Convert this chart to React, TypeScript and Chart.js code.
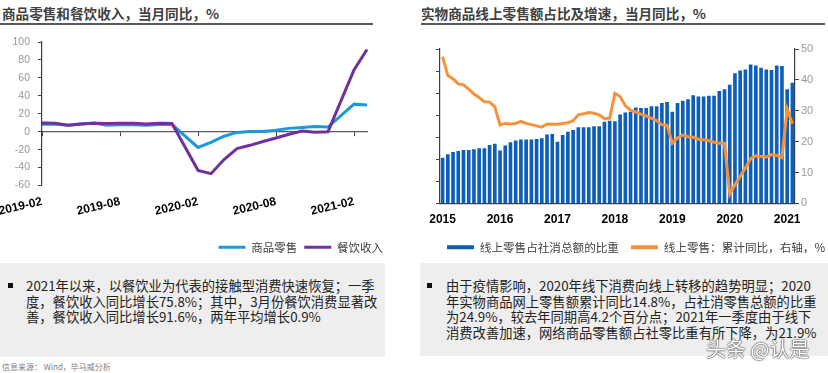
import React, { useEffect, useRef } from 'react';
import { Chart, registerables } from 'chart.js';

Chart.register(...registerables);

// ---------- Left chart data ----------
const leftLabels = [
  '2019-02', '2019-03', '2019-04', '2019-05', '2019-06', '2019-07', '2019-08', '2019-09', '2019-10', '2019-11', '2019-12',
  '2020-01', '2020-02', '2020-03', '2020-04', '2020-05', '2020-06', '2020-07', '2020-08', '2020-09', '2020-10', '2020-11', '2020-12',
  '2021-01', '2021-02', '2021-03',
];
const leftTickLabels = ['2019-02', '2019-08', '2020-02', '2020-08', '2021-02'];
const goodsRetail = [
  8.2, 8.7, 7.2, 8.7, 9.8, 7.3, 7.6, 7.6, 7.2, 8.0, 7.9,
  null, -17.6, -12.0, -5.1, -0.8, 0.2, 0.2, 1.5, 3.7, 4.6, 5.8, 5.2,
  null, 30.7, 29.8,
];
const cateringRevenue = [
  9.7, 9.3, 7.2, 8.7, 9.5, 9.0, 9.5, 9.3, 8.6, 9.3, 9.1,
  null, -43.1, -46.8, -31.1, -18.9, -15.2, -11.0, -7.0, -2.9, 0.8, -0.6, 0.0,
  null, 68.9, 91.6,
];
const leftSeriesNames = ['商品零售', '餐饮收入'];

// ---------- Right chart data ----------
const rightLabels = [
  '2015-02', '2015-03', '2015-04', '2015-05', '2015-06', '2015-07', '2015-08', '2015-09', '2015-10', '2015-11', '2015-12',
  '2016-02', '2016-03', '2016-04', '2016-05', '2016-06', '2016-07', '2016-08', '2016-09', '2016-10', '2016-11', '2016-12',
  '2017-02', '2017-03', '2017-04', '2017-05', '2017-06', '2017-07', '2017-08', '2017-09', '2017-10', '2017-11', '2017-12',
  '2018-02', '2018-03', '2018-04', '2018-05', '2018-06', '2018-07', '2018-08', '2018-09', '2018-10', '2018-11', '2018-12',
  '2019-02', '2019-03', '2019-04', '2019-05', '2019-06', '2019-07', '2019-08', '2019-09', '2019-10', '2019-11', '2019-12',
  '2020-02', '2020-03', '2020-04', '2020-05', '2020-06', '2020-07', '2020-08', '2020-09', '2020-10', '2020-11', '2020-12',
  '2021-02', '2021-03',
];
const onlineShare = [
  8.3, 8.9, 9.3, 9.5, 9.7, 9.7, 9.8, 10.0, 10.0, 10.6, 10.8,
  9.6, 10.5, 11.1, 11.4, 11.6, 11.6, 11.6, 11.7, 11.8, 12.5, 12.6,
  11.2, 12.4, 13.0, 13.3, 13.8, 13.8, 13.8, 14.0, 14.0, 14.8, 15.0,
  14.9, 16.1, 16.5, 16.6, 17.4, 17.3, 17.3, 17.6, 17.6, 18.2, 18.4,
  16.6, 18.2, 18.6, 18.9, 19.6, 19.4, 19.4, 19.5, 19.5, 20.4, 20.7,
  21.5, 23.6, 24.1, 24.3, 25.2, 25.0, 24.6, 24.3, 24.2, 25.0, 24.9,
  20.7, 21.9,
];
const onlineGrowth = [
  47.5, 41.4, 40.3, 38.7, 38.4, 37.0, 35.4, 34.3, 32.9, 32.8, 31.3,
  25.4, 25.9, 25.7, 25.9, 26.6, 25.9, 25.5, 25.1, 24.7, 25.7, 25.6,
  25.6, 25.9, 26.1, 26.8, 28.7, 29.0, 29.4, 29.2, 28.7, 27.4, 27.6,
  35.6, 34.6, 31.6, 30.2, 29.6, 28.9, 28.3, 27.6, 26.8, 25.5, 25.3,
  19.5, 21.2, 22.1, 21.6, 21.4, 20.8, 20.6, 20.3, 19.8, 19.5, 19.5,
  3.0, 6.0, 8.8, 11.5, 14.5, 15.4, 15.2, 15.0, 15.8, 15.5, 14.8,
  30.6, 25.8,
];
const rightSeriesNames = ['线上零售占社消总额的比重', '线上零售：累计同比，右轴，%'];

const CJK = '"Noto Sans CJK SC", "Noto Sans", sans-serif';
const LAT = '"Liberation Sans", Arial, sans-serif';
const BLUE = '#1c9ad6';
const PURPLE = '#7030a0';
const NAVY = '#0d5eb9';
const ORANGE = '#f7923a';
const AXIS = '#404040';
const TICKTXT = '#999999';

const LW = 392, LH = 235;
const RW = 470, RH = 235;

const legendGen = (chart: any) =>
  chart.data.datasets.map((d: any, i: number) => ({
    text: d.label,
    fillStyle: d.legendColor,
    strokeStyle: d.legendColor,
    lineWidth: 0,
    hidden: false,
    datasetIndex: i,
    fontColor: '#404040',
  }));

export default function App() {
  const leftRef = useRef<HTMLCanvasElement | null>(null);
  const rightRef = useRef<HTMLCanvasElement | null>(null);

  useEffect(() => {
    const left = new Chart(leftRef.current as HTMLCanvasElement, {
      type: 'line',
      data: {
        labels: leftLabels,
        datasets: [
          {
            label: leftSeriesNames[0], data: goodsRetail, borderColor: BLUE, backgroundColor: BLUE,
            legendColor: BLUE, borderWidth: 3, pointRadius: 0, tension: 0, spanGaps: true, order: 1,
            xAxisID: 'x', yAxisID: 'y',
          } as any,
          {
            label: leftSeriesNames[1], data: cateringRevenue, borderColor: PURPLE, backgroundColor: PURPLE,
            legendColor: PURPLE, borderWidth: 3, pointRadius: 0, tension: 0, spanGaps: true, order: 0,
            xAxisID: 'x', yAxisID: 'y',
          } as any,
        ],
      },
      options: {
        responsive: false,
        animation: false,
        devicePixelRatio: 1,
        layout: { padding: { top: 12, left: 0, right: 2, bottom: 2 } },
        plugins: {
          legend: {
            position: 'bottom',
            align: 'end',
            labels: {
              boxWidth: 27, boxHeight: 3, padding: 7, color: '#404040',
              font: { family: CJK, size: 11.5 },
              generateLabels: legendGen,
            },
          },
          tooltip: { enabled: false },
        },
        scales: {
          x: {
            type: 'category',
            position: 'bottom',
            offset: false,
            grid: { display: false, drawTicks: false },
            border: { display: false },
            ticks: {
              autoSkip: false, minRotation: 13, maxRotation: 13, padding: 9, color: '#000000',
              font: { family: LAT, size: 12, weight: 'bold' },
              callback: (_v: any, i: number) => (leftTickLabels.includes(leftLabels[i]) ? leftLabels[i] : ''),
            },
            afterFit: (s: any) => { s.height = 49; s.paddingLeft = 0; s.paddingRight = 0; },
          },
          x2: {
            type: 'category',
            display: true,
            position: { y: 0 },
            offset: false,
            grid: {
              drawOnChartArea: false, drawTicks: true, tickLength: 4, lineWidth: 1,
              color: (ctx: any) => (leftTickLabels.includes(leftLabels[ctx.index]) ? AXIS : 'rgba(0,0,0,0)'),
            },
            border: { display: true, color: '#595959', width: 1.2 },
            ticks: { display: false, autoSkip: false },
          },
          y: {
            position: 'left',
            min: -60, max: 100,
            ticks: { stepSize: 20, color: TICKTXT, padding: 8, font: { family: LAT, size: 10.5 } },
            grid: { drawOnChartArea: false, drawTicks: true, tickLength: 4, color: AXIS },
            border: { display: true, color: AXIS, width: 1.2 },
            afterFit: (s: any) => { s.width = 42; s.paddingTop = 0; s.paddingBottom = 0; },
          },
          yPad: {
            position: 'right',
            display: true,
            grid: { display: false, drawTicks: false },
            border: { display: false },
            ticks: { display: false },
            afterFit: (s: any) => { s.width = 23; s.paddingTop = 0; s.paddingBottom = 0; },
          },
        },
      } as any,
    });

    const right = new Chart(rightRef.current as HTMLCanvasElement, {
      type: 'bar',
      data: {
        labels: rightLabels,
        datasets: [
          {
            type: 'bar', label: rightSeriesNames[0], data: onlineShare, backgroundColor: NAVY, legendColor: NAVY,
            yAxisID: 'y', barPercentage: 0.7, categoryPercentage: 1, order: 1,
          } as any,
          {
            type: 'line', label: rightSeriesNames[1], data: onlineGrowth, borderColor: ORANGE, backgroundColor: ORANGE,
            legendColor: ORANGE, borderWidth: 3, pointRadius: 0, tension: 0, yAxisID: 'y1', order: 0,
          } as any,
        ],
      },
      options: {
        responsive: false,
        animation: false,
        devicePixelRatio: 1,
        layout: { padding: { top: 19, left: 21, right: 0, bottom: 2 } },
        plugins: {
          legend: {
            position: 'bottom',
            align: 'start',
            labels: {
              boxWidth: 27, boxHeight: 4, padding: 12, color: '#404040',
              font: { family: CJK, size: 11.6 },
              generateLabels: legendGen,
            },
          },
          tooltip: { enabled: false },
        },
        scales: {
          x: {
            type: 'category',
            offset: true,
            grid: { display: false, drawTicks: false },
            border: { display: true, color: AXIS, width: 1.2 },
            ticks: {
              autoSkip: false, minRotation: 0, maxRotation: 0, padding: 9, color: '#000000',
              font: { family: LAT, size: 12, weight: 'bold' },
              callback: (_v: any, i: number) => (rightLabels[i].endsWith('-02') ? rightLabels[i].slice(0, 4) : ''),
            },
            afterFit: (s: any) => { s.height = 26; s.paddingLeft = 0; s.paddingRight = 0; },
          },
          y: {
            position: 'left',
            min: 0, max: 28,
            ticks: { stepSize: 4, color: TICKTXT, padding: 2, font: { family: LAT, size: 11 } },
            grid: { drawOnChartArea: false, drawTicks: true, tickLength: 4, color: AXIS },
            border: { display: true, color: AXIS, width: 1.2 },
            afterFit: (s: any) => { s.width = 5; s.paddingTop = 0; s.paddingBottom = 0; },
          },
          y1: {
            position: 'right',
            min: 0, max: 50,
            ticks: { stepSize: 10, color: TICKTXT, padding: 2, font: { family: LAT, size: 11 } },
            grid: { drawOnChartArea: false, drawTicks: true, tickLength: 4, color: AXIS },
            border: { display: true, color: AXIS, width: 1.2 },
            afterFit: (s: any) => { s.width = RW - 381; s.paddingTop = 0; s.paddingBottom = 0; },
          },
        },
      } as any,
    });

    return () => {
      left.destroy();
      right.destroy();
    };
  }, []);

  const titleStyle: React.CSSProperties = {
    position: 'absolute', top: 3, fontFamily: CJK, fontWeight: 700, fontSize: 13.6,
    lineHeight: '20px', color: '#404040', whiteSpace: 'nowrap',
  };
  const ruleStyle: React.CSSProperties = { position: 'absolute', top: 23, height: 2, background: '#595959' };
  const boxStyle: React.CSSProperties = { position: 'absolute', top: 263, background: '#eeeeee' };
  const textStyle: React.CSSProperties = {
    position: 'absolute', top: 15, left: 26, fontFamily: CJK, fontSize: 13.3, lineHeight: '15.7px',
    color: '#222222', whiteSpace: 'pre',
  };
  const bullet: React.CSSProperties = { position: 'absolute', top: 20, width: 5, height: 5, background: '#111' };

  return (
    <div
      style={{
        position: 'fixed', left: 0, top: 0, width: 828, height: 373, overflow: 'hidden',
        background: '#ffffff', fontFamily: CJK,
      }}
    >
      <div style={{ ...titleStyle, left: 2 }}>商品零售和餐饮收入，当月同比，%</div>
      <div style={{ ...ruleStyle, left: 0, width: 373 }} />
      <div style={{ ...titleStyle, left: 421 }}>实物商品线上零售额占比及增速，当月同比，%</div>
      <div style={{ ...ruleStyle, left: 421, width: 404 }} />

      <canvas ref={leftRef} width={LW} height={LH} style={{ position: 'absolute', left: 0, top: 30, width: LW, height: LH }} />
      <canvas ref={rightRef} width={RW} height={RH} style={{ position: 'absolute', left: 414, top: 30, width: RW, height: RH }} />

      <div style={{ ...boxStyle, left: 0, width: 385, height: 94 }}>
        <div style={{ ...bullet, left: 8 }} />
        <div style={textStyle}>
          {'2021年以来，以餐饮业为代表的接触型消费快速恢复；一季\n度，餐饮收入同比增长75.8%；其中，3月份餐饮消费显著改\n善，餐饮收入同比增长91.6%，两年平均增长0.9%'}
        </div>
      </div>
      <div style={{ ...boxStyle, left: 420, width: 408, height: 93 }}>
        <div style={{ ...bullet, left: 7 }} />
        <div style={textStyle}>
          {'由于疫情影响，2020年线下消费向线上转移的趋势明显；2020\n年实物商品网上零售额累计同比14.8%，占社消零售总额的比重\n为24.9%，较去年同期高4.2个百分点；2021年一季度由于线下\n消费改善加速，网络商品零售额占社零比重有所下降，为21.9%'}
        </div>
      </div>

      <div
        style={{
          position: 'absolute', left: 2, top: 361, fontFamily: CJK, fontSize: 8, lineHeight: '11px',
          color: '#808080', whiteSpace: 'nowrap',
        }}
      >
        信息来源： Wind，毕马威分析
      </div>
      <div
        style={{
          position: 'absolute', left: 706, top: 337, fontFamily: CJK, fontSize: 20, lineHeight: '24px',
          color: '#ffffff', whiteSpace: 'nowrap',
          textShadow: '0 0 1px #444, 0 0 1px #444, 0 0 2px #666',
        }}
      >
        头条 @认是
      </div>
    </div>
  );
}
